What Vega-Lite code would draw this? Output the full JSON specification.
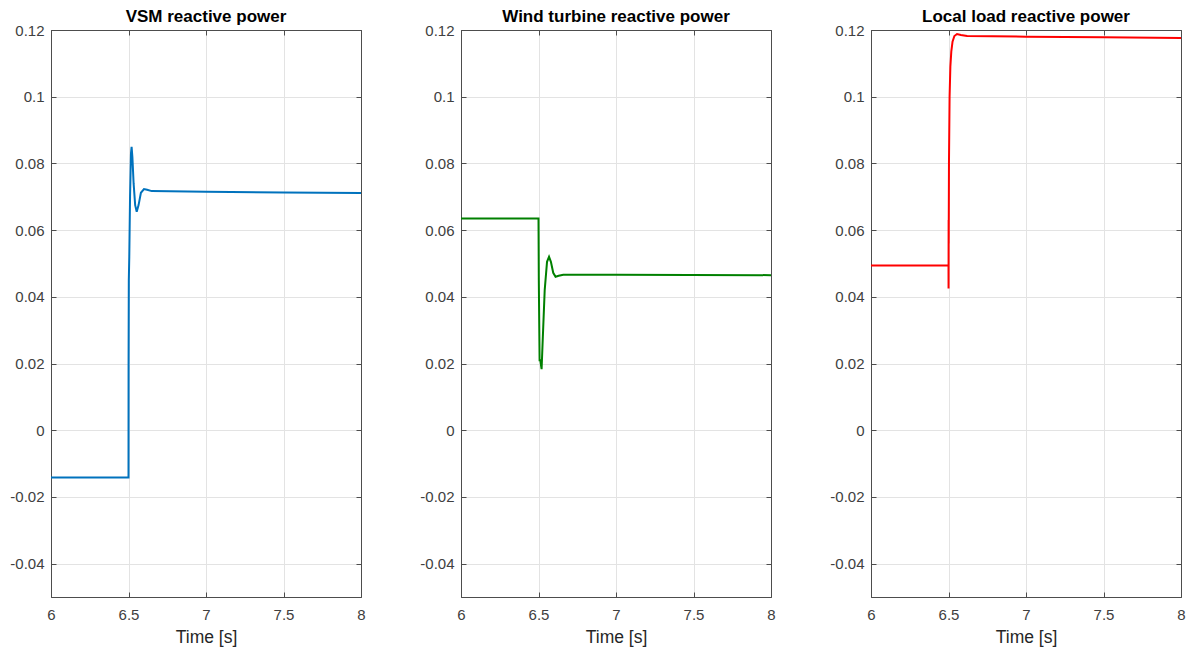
{
  "$schema": "https://vega.github.io/schema/vega-lite/v6.json",
  "background": "white",
  "padding": {"left": 9, "top": 7, "right": 5, "bottom": 5},
  "spacing": 100,
  "bounds": "flush",
  "config": {
    "font": "Liberation Sans",
    "view": {"stroke": "#4d4d4d", "strokeWidth": 1},
    "axis": {
      "labelFont": "Liberation Sans",
      "labelFontSize": 15,
      "labelColor": "#404040",
      "titleFont": "Liberation Sans",
      "titleFontSize": 17.5,
      "titleFontWeight": "normal",
      "titleColor": "#262626",
      "gridColor": "#e3e3e3",
      "gridWidth": 1,
      "domain": true,
      "domainColor": "#4d4d4d",
      "ticks": true,
      "tickSize": -5,
      "tickColor": "#4d4d4d"
    },
    "title": {"font": "Liberation Sans", "fontSize": 17, "fontWeight": "bold", "color": "#000000", "offset": -3}
  },
  "datasets": {
    "vsm": [
      {"i": 0, "t": 6.0, "q": -0.0142},
      {"i": 1, "t": 6.499, "q": -0.0142},
      {"i": 2, "t": 6.5, "q": -0.0142},
      {"i": 3, "t": 6.5005, "q": 0.02},
      {"i": 4, "t": 6.502, "q": 0.045},
      {"i": 5, "t": 6.505, "q": 0.052},
      {"i": 6, "t": 6.51, "q": 0.07},
      {"i": 7, "t": 6.516, "q": 0.083},
      {"i": 8, "t": 6.52, "q": 0.085},
      {"i": 9, "t": 6.525, "q": 0.082},
      {"i": 10, "t": 6.533, "q": 0.074},
      {"i": 11, "t": 6.543, "q": 0.0675},
      {"i": 12, "t": 6.553, "q": 0.0655},
      {"i": 13, "t": 6.565, "q": 0.0675},
      {"i": 14, "t": 6.58, "q": 0.0712},
      {"i": 15, "t": 6.6, "q": 0.0723},
      {"i": 16, "t": 6.62, "q": 0.0721},
      {"i": 17, "t": 6.65, "q": 0.0717},
      {"i": 18, "t": 7.0, "q": 0.0715},
      {"i": 19, "t": 7.5, "q": 0.0713},
      {"i": 20, "t": 8.0, "q": 0.0711}
    ],
    "wind": [
      {"i": 0, "t": 6.0, "q": 0.0635},
      {"i": 1, "t": 6.499, "q": 0.0635},
      {"i": 2, "t": 6.5, "q": 0.0635},
      {"i": 3, "t": 6.502, "q": 0.045},
      {"i": 4, "t": 6.507, "q": 0.021},
      {"i": 5, "t": 6.512, "q": 0.021},
      {"i": 6, "t": 6.516, "q": 0.0195},
      {"i": 7, "t": 6.52, "q": 0.0183},
      {"i": 8, "t": 6.528, "q": 0.028},
      {"i": 9, "t": 6.54, "q": 0.042},
      {"i": 10, "t": 6.555, "q": 0.0505},
      {"i": 11, "t": 6.568, "q": 0.052},
      {"i": 12, "t": 6.58, "q": 0.0505},
      {"i": 13, "t": 6.595, "q": 0.0472},
      {"i": 14, "t": 6.61, "q": 0.046},
      {"i": 15, "t": 6.63, "q": 0.0463},
      {"i": 16, "t": 6.66, "q": 0.0466},
      {"i": 17, "t": 7.0, "q": 0.0466},
      {"i": 18, "t": 8.0, "q": 0.0465}
    ],
    "load": [
      {"i": 0, "t": 6.0, "q": 0.0494},
      {"i": 1, "t": 6.499, "q": 0.0494},
      {"i": 2, "t": 6.5, "q": 0.0494},
      {"i": 3, "t": 6.5003, "q": 0.0425},
      {"i": 4, "t": 6.5008, "q": 0.063},
      {"i": 5, "t": 6.5012, "q": 0.056},
      {"i": 6, "t": 6.503, "q": 0.08},
      {"i": 7, "t": 6.507, "q": 0.1},
      {"i": 8, "t": 6.512, "q": 0.109},
      {"i": 9, "t": 6.518, "q": 0.1135},
      {"i": 10, "t": 6.526, "q": 0.1165},
      {"i": 11, "t": 6.538, "q": 0.1182},
      {"i": 12, "t": 6.555, "q": 0.1188},
      {"i": 13, "t": 6.58, "q": 0.1185},
      {"i": 14, "t": 6.62, "q": 0.1182},
      {"i": 15, "t": 7.0, "q": 0.118},
      {"i": 16, "t": 7.5, "q": 0.1178},
      {"i": 17, "t": 8.0, "q": 0.1176}
    ]
  },
  "hconcat": [
    {
      "title": "VSM reactive power",
      "width": 310, "height": 567,
      "data": {"name": "vsm"},
      "resolve": {"axis": {"x": "independent", "y": "independent"}},
      "layer": [
        {
          "mark": {"type": "line", "color": "#0072BD", "strokeWidth": 2, "clip": true},
          "encoding": {
            "x": {"field": "t", "type": "quantitative", "scale": {"domain": [6, 8], "nice": false, "zero": false}, "axis": {"title": "Time [s]", "values": [6, 6.5, 7, 7.5, 8], "labelExpr": "format(datum.value, '~g')", "labelPadding": 15, "titlePadding": 6, "labelFlush": false}},
            "y": {"field": "q", "type": "quantitative", "scale": {"domain": [-0.05, 0.12], "nice": false, "zero": false}, "axis": {"title": null, "values": [-0.04, -0.02, 0, 0.02, 0.04, 0.06, 0.08, 0.1, 0.12], "labelExpr": "replace(format(datum.value, '.2~f'), '\u2212', '-')", "labelPadding": 12}},
            "order": {"field": "i", "type": "quantitative"}
          }
        },
        {
          "mark": {"type": "line", "strokeOpacity": 0, "clip": true},
          "encoding": {
            "x": {"field": "t", "type": "quantitative", "axis": {"orient": "top", "title": null, "labels": false, "grid": false, "values": [6, 6.5, 7, 7.5, 8], "minExtent": 0, "maxExtent": 0, "zindex": 2}},
            "y": {"field": "q", "type": "quantitative", "axis": {"orient": "right", "title": null, "labels": false, "grid": false, "values": [-0.04, -0.02, 0, 0.02, 0.04, 0.06, 0.08, 0.1, 0.12], "minExtent": 0, "maxExtent": 0, "zindex": 2}},
            "order": {"field": "i", "type": "quantitative"}
          }
        }
      ]
    },
    {
      "title": "Wind turbine reactive power",
      "width": 310, "height": 567,
      "data": {"name": "wind"},
      "resolve": {"axis": {"x": "independent", "y": "independent"}},
      "layer": [
        {
          "mark": {"type": "line", "color": "#008000", "strokeWidth": 2, "clip": true},
          "encoding": {
            "x": {"field": "t", "type": "quantitative", "scale": {"domain": [6, 8], "nice": false, "zero": false}, "axis": {"title": "Time [s]", "values": [6, 6.5, 7, 7.5, 8], "labelExpr": "format(datum.value, '~g')", "labelPadding": 15, "titlePadding": 6, "labelFlush": false}},
            "y": {"field": "q", "type": "quantitative", "scale": {"domain": [-0.05, 0.12], "nice": false, "zero": false}, "axis": {"title": null, "values": [-0.04, -0.02, 0, 0.02, 0.04, 0.06, 0.08, 0.1, 0.12], "labelExpr": "replace(format(datum.value, '.2~f'), '\u2212', '-')", "labelPadding": 12}},
            "order": {"field": "i", "type": "quantitative"}
          }
        },
        {
          "mark": {"type": "line", "strokeOpacity": 0, "clip": true},
          "encoding": {
            "x": {"field": "t", "type": "quantitative", "axis": {"orient": "top", "title": null, "labels": false, "grid": false, "values": [6, 6.5, 7, 7.5, 8], "minExtent": 0, "maxExtent": 0, "zindex": 2}},
            "y": {"field": "q", "type": "quantitative", "axis": {"orient": "right", "title": null, "labels": false, "grid": false, "values": [-0.04, -0.02, 0, 0.02, 0.04, 0.06, 0.08, 0.1, 0.12], "minExtent": 0, "maxExtent": 0, "zindex": 2}},
            "order": {"field": "i", "type": "quantitative"}
          }
        }
      ]
    },
    {
      "title": "Local load reactive power",
      "width": 310, "height": 567,
      "data": {"name": "load"},
      "resolve": {"axis": {"x": "independent", "y": "independent"}},
      "layer": [
        {
          "mark": {"type": "line", "color": "#FF0000", "strokeWidth": 2, "clip": true},
          "encoding": {
            "x": {"field": "t", "type": "quantitative", "scale": {"domain": [6, 8], "nice": false, "zero": false}, "axis": {"title": "Time [s]", "values": [6, 6.5, 7, 7.5, 8], "labelExpr": "format(datum.value, '~g')", "labelPadding": 15, "titlePadding": 6, "labelFlush": false}},
            "y": {"field": "q", "type": "quantitative", "scale": {"domain": [-0.05, 0.12], "nice": false, "zero": false}, "axis": {"title": null, "values": [-0.04, -0.02, 0, 0.02, 0.04, 0.06, 0.08, 0.1, 0.12], "labelExpr": "replace(format(datum.value, '.2~f'), '\u2212', '-')", "labelPadding": 12}},
            "order": {"field": "i", "type": "quantitative"}
          }
        },
        {
          "mark": {"type": "line", "strokeOpacity": 0, "clip": true},
          "encoding": {
            "x": {"field": "t", "type": "quantitative", "axis": {"orient": "top", "title": null, "labels": false, "grid": false, "values": [6, 6.5, 7, 7.5, 8], "minExtent": 0, "maxExtent": 0, "zindex": 2}},
            "y": {"field": "q", "type": "quantitative", "axis": {"orient": "right", "title": null, "labels": false, "grid": false, "values": [-0.04, -0.02, 0, 0.02, 0.04, 0.06, 0.08, 0.1, 0.12], "minExtent": 0, "maxExtent": 0, "zindex": 2}},
            "order": {"field": "i", "type": "quantitative"}
          }
        }
      ]
    }
  ]
}
